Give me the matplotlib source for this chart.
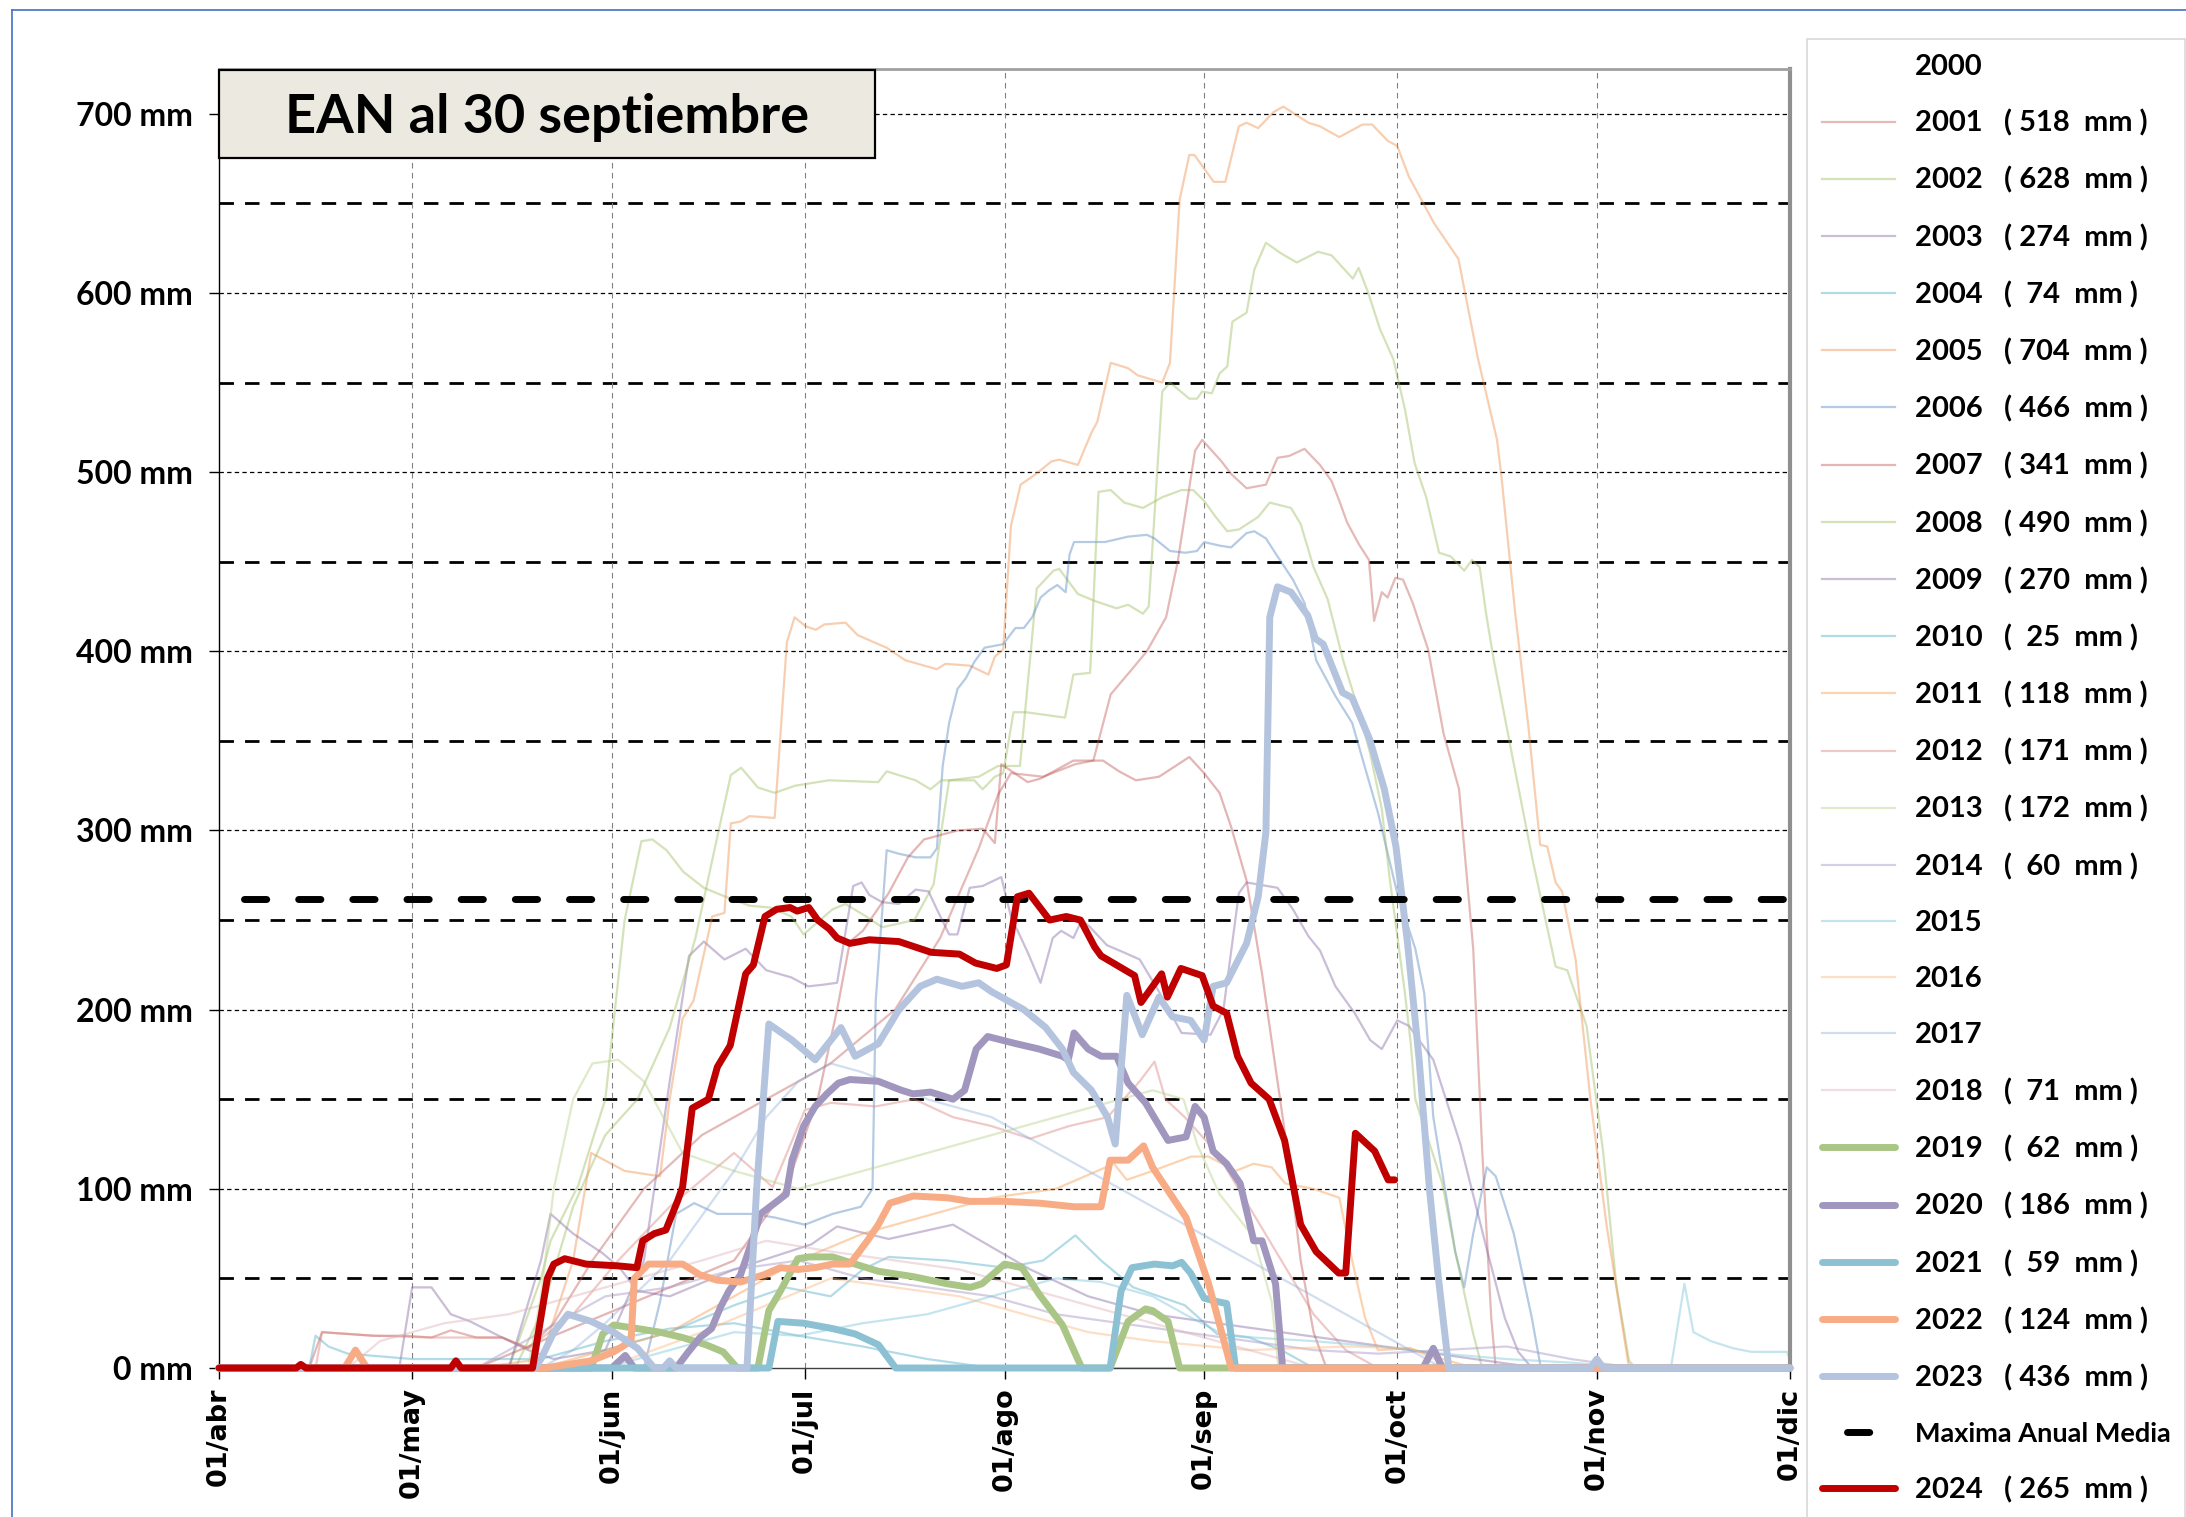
import matplotlib
matplotlib.use("Agg")
import matplotlib.pyplot as plt
from matplotlib.lines import Line2D
from matplotlib.patches import Rectangle

W, H, DPI = 2186, 1517, 100

# ---------------- data (day 0 = 01/abr) ----------------
month_days = [0, 30, 61, 91, 122, 153, 183, 214, 244]
month_labels = ["01/abr", "01/may", "01/jun", "01/jul", "01/ago", "01/sep", "01/oct", "01/nov", "01/dic"]
y_ticks = [0, 100, 200, 300, 400, 500, 600, 700]
y_labels = ["0 mm", "100 mm", "200 mm", "300 mm", "400 mm", "500 mm", "600 mm", "700 mm"]
maxima_media = 262
title_text = "EAN al 30 septiembre"

legend_max = {2001: 518, 2002: 628, 2003: 274, 2004: 74, 2005: 704, 2006: 466, 2007: 341,
              2008: 490, 2009: 270, 2010: 25, 2011: 118, 2012: 171, 2013: 172, 2014: 60,
              2018: 71, 2019: 62, 2020: 186, 2021: 59, 2022: 124, 2023: 436, 2024: 265}

s2001 = [(0,0),(14,0),(16,20),(20,19),(24,18),(29,18),(33,17),(36,21),(40,17),(44,17),(48,11),(52,25),
         (58,60),(66,100),(75,130),(85,150),(95,170),(105,200),(112,240),(118,290),(121,320),(123,332),
         (128,330),(133,337),(135.8,339),(138.5,376),(141.8,390),(144.1,400),(147.1,419),(148.9,450),
         (151.6,512),(152.7,518),(155.7,506),(157.2,499),(159.6,491),(162.6,493),(164.4,508),(166.2,509),
         (168.6,513),(171,504),(172.8,495),(174,484),(175.2,472),(177,460),(178.6,451),(179.4,417),
         (180.6,433),(181.5,430),(182.7,441),(183.9,440),(185.4,427),(187.8,401),(190.2,354),(192.6,323),
         (194.8,234),(196.2,121),(197.6,28),(198.3,0),(244,0)]
s2002 = [(0,0),(45,0),(50,50),(51.5,71),(55.8,102),(60,150),(63,250),(65.6,294),(67.3,295),(69.5,289),
         (72.1,277),(75.3,268),(78,264),(82.4,258),(85.6,257),(88.9,252),(90.8,242),(92.7,248),(95.3,256),
         (97.3,259),(100.5,252),(103,246),(108,250),(111,270),(112.2,300),(113.4,328),(118,330),(121,336),
         (124.4,336),(127,435),(129.6,445),(130.5,446),(133.4,432),(136.1,428),(139.4,424),(141.2,426),
         (143.5,421),(144.4,425),(146.5,545),(147.7,550),(150.7,541),(151.9,541),(152.7,545),(154.2,544),
         (155.4,555),(156.6,559),(157.4,584),(159.6,589),(160.8,613),(162.6,628),(165,622),(167.4,617),
         (170.7,623),(172.8,621),(176.1,608),(177,614),(178.5,600),(180.3,580),(182.4,563),(184.2,535),
         (185.7,505),(187.5,486),(189.5,455),(191.3,453),(193.4,445),(194.6,451),(195.8,447),(196.8,421),
         (198,395),(201,339),(204,284),(207.6,224),(209.4,222),(212.4,191),(215,120),(217,47),(219,4),
         (220,0),(244,0)]
s2003 = [(0,0),(28,0),(30,45),(33,45),(36,30),(39,26),(44,17),(48,10),(52,5),(60,10),(66,60),(70,160),
         (73,230),(75.3,238),(78.5,228),(81.8,234),(85,222),(88.9,218),(91.5,213),(94,214),(96,215),
         (98.5,269),(99.8,271),(101,264),(103,260),(105.6,259),(108.2,267),(110.2,266),(111.5,256),
         (113.4,242),(114.7,242),(116.6,268),(118.6,269),(121.5,274),(123,252),(125.6,232),(127.6,215),
         (129.5,240),(130.8,244),(132.7,240),(134,250),(135.3,246),(137.9,236),(140.5,232),(143,228),
         (146,210),(149.5,187),(154,186),(156,200),(158.4,265),(159.6,271),(164.4,268),(166.8,256),
         (169.2,241),(171,233),(173.4,213),(176.4,198),(178.8,183),(180.6,178),(183,194),(184.8,191),
         (188.6,172),(192.8,125),(197,65),(199.7,28),(201.8,9),(203.9,0),(244,0)]
s2004 = [(0,0),(55,0),(60,10),(70,20),(80,35),(88,45),(95,40),(100,55),(104,62),(113,60),(122,56),
         (128,60),(133,74),(137,60),(142,45),(150,35),(155,19),(160,17),(165,10),(170,0),(244,0)]
s2005 = [(0,0),(40,0),(50,5),(55,60),(57.8,120),(63,110),(68.5,107),(70,150),(72,195),(73.7,205),
         (76.6,252),(78.5,254),(79.5,304),(81,305),(82.4,308),(86.3,307),(88.2,405),(89.4,419),(91.1,414),
         (92.7,412),(94,415),(97.3,416),(99.2,409),(103.7,402),(106.6,395),(111.5,390),(112.8,393),
         (116.6,392),(119.5,387),(120.5,397),(121.8,401),(123,470),(124.5,493),(126.9,499),(129.3,506),
         (130.5,507),(133.4,504),(135.5,522),(136.4,528),(138.5,561),(141.2,558),(142.7,554),(146.5,550),
         (147.7,561),(149.2,652),(150.7,677),(151.5,677),(154.5,662),(156.3,662),(158.4,693),(159.6,695),
         (161.4,692),(163.8,701),(165.3,704),(169.2,695),(171,693),(174,687),(177.6,694),(179.1,694),
         (181.5,685),(183,682),(184.8,665),(186.6,653),(188.7,639),(192.5,619),(195.5,564),(198.5,518),
         (199.2,497),(201.3,422),(203.4,357),(205.2,292),(206.3,291),(207.6,271),(208.6,266),(210.7,228),
         (213,150),(215.5,80),(219,0),(244,0)]
s2006 = [(0,0),(66,0),(68.5,37),(71,86),(73.8,92),(77.4,86),(82.8,86),(86.3,84),(91,80),(95.3,86),
         (99.7,90),(101.5,100),(102,205),(103.7,289),(105.6,287),(108.2,285),(110.5,285),(111.5,290),
         (112.4,336),(113.4,360),(114.7,379),(116,385),(117.3,394),(118.9,402),(121.8,404),(123.7,413),
         (125,413),(126.3,419),(127.6,430),(128.9,434),(130.2,437),(131.5,433),(132.1,454),(132.8,461),
         (137.6,461),(141.2,464),(144.1,465),(145.3,463),(147.7,456),(150.1,455),(151.9,456),(153,461),
         (155.4,459),(157.2,458),(159.6,466),(160.8,467),(162.6,463),(164.4,453),(166.8,440),(168.6,427),
         (170.4,395),(173.4,375),(176,360),(180,310),(183,265),(185.8,234),(187.2,209),(188.6,140),
         (192,65),(193.4,45),(194.8,75),(196.9,112),(198.3,107),(201.1,75),(203.9,28),(205.3,0),(244,0)]
s2007 = [(0,0),(40,0),(50,15),(60,30),(70,45),(80,60),(88,100),(93,150),(96,200),(98,238),(100,244),
         (104,265),(107,285),(109.5,295),(114.7,300),(118.6,301),(120.5,293),(121.5,337),(125.6,327),
         (127.6,329),(132.7,339),(137.3,339),(139.8,333),(142.4,328),(146,330),(150.7,341),(153,332),
         (155.4,321),(157.2,302),(159.6,272),(162,220),(164,170),(166,120),(168,60),(170,20),(172,0),(244,0)]
s2008 = [(0,0),(46,0),(50,30),(55,90),(60,130),(65,150),(70,190),(74,240),(77,290),(79.5,331),
         (81.1,335),(83.7,324),(86.3,321),(89.5,325),(94.7,328),(102.4,327),(103.7,333),(108.2,328),
         (110.5,323),(112.2,328),(117.3,328),(118.6,323),(120.5,330),(121.8,332),(123.4,366),(125.3,366),
         (131.4,363),(132.7,387),(135.3,388),(136.6,489),(138.5,490),(140.6,483),(143.5,480),(146.5,486),
         (149.5,490),(151.3,490),(153,484),(154.8,475),(156.6,467),(158.4,468),(161.4,475),(163.2,483),
         (166.5,480),(168,471),(170,447),(172.2,429),(174.6,395),(177,367),(178.8,343),(180.6,312),
         (181.8,274),(184.2,209),(185.1,181),(185.8,150),(190,103),(192,65),(194.8,19),(196.2,0),(244,0)]
s2009 = [(0,0),(45,0),(50,60),(51.5,86),(55,75),(59.6,64),(62.2,56),(65,43),(70,40),(80,55),(92,69),
         (96,79),(104,72),(114,80),(126,55),(135,40),(145,30),(155,25),(165,20),(175,15),(185,10),
         (195,5),(205,0),(244,0)]
s2010 = [(0,0),(14,0),(15,18),(17,12),(20,8),(30,5),(50,5),(60,15),(70,22),(80,25),(90,18),(100,12),
         (110,5),(120,0),(244,0)]
s2011 = [(0,0),(50,0),(60,10),(70,20),(80,40),(90,60),(100,75),(110,85),(120,95),(130,100),(139,114),
         (141,105),(145,110),(151,118),(153.7,118),(157.9,110),(160.7,114),(163.5,112),(165.6,103),
         (170,100),(174,95),(176,60),(178,28),(180,10),(185,11),(190,5),(195,0),(244,0)]
s2012 = [(0,0),(15,0),(16,20),(24,18),(33,17),(40,17),(44,17),(48,11),(55,30),(62,60),(70,90),(80,120),
         (86,101),(91,144),(95,148),(102,146),(108,150),(114,140),(120,135),(126,128),(132,135),(138,140),
         (143,160),(145.3,171),(147,150),(150,140),(155,120),(160,90),(165,60),(170,30),(175,10),(180,0),(244,0)]
s2013 = [(0,0),(48,0),(50,40),(52,100),(55,150),(58,170),(62,172),(66,160),(72,120),(80,110),(90,100),
         (100,110),(110,120),(120,130),(130,140),(140,150),(145,155),(149.8,150),(151.9,125),(155.4,97),
         (160.7,73),(163.5,37),(164.5,2),(165,0),(244,0)]
s2014 = [(0,0),(40,0),(50,20),(60,40),(70,45),(80,55),(90,60),(100,50),(110,45),(120,40),(130,30),
         (140,25),(150,20),(160,15),(170,10),(180,8),(190,10),(200,12),(210,5),(220,0),(244,0)]
s2015 = [(0,0),(60,0),(70,10),(80,20),(90,18),(100,25),(110,30),(120,40),(130,50),(137,48),(145,40),
         (150,30),(155.8,19),(160.7,17),(170,15),(180,12),(190,8),(200,5),(210,3),(220,0),(225.5,0),
         (227.6,47),(229,20),(231.7,15),(235.2,11),(238,9),(243.5,9),(244,5)]
s2016 = [(0,0),(60,0),(75,20),(85,35),(95,50),(105,45),(115,40),(125,30),(135,20),(145,15),(160,10),
         (175,12),(185,11),(192,0),(244,0)]
s2017 = [(0,0),(50,0),(55,10),(60,25),(70,60),(75,85),(80,110),(85,140),(90,160),(95,170),(100,165),
         (110,150),(120,140),(130,120),(140,100),(150,80),(160,60),(170,40),(180,20),(190,0),(244,0)]
s2018 = [(0,0),(20,0),(25,15),(35,25),(45,30),(55,40),(65,50),(75,60),(85,71),(95,65),(105,60),
         (115,55),(125,45),(135,35),(145,25),(155,15),(165,5),(170,0),(244,0)]

s2019 = [(0,0),(57.8,0),(59.6,19),(61.3,24),(65,22),(68.5,20),(72,17),(75.6,13),(78.3,9),(80.5,0),
         (83.7,0),(85.4,32),(87.2,43),(89.9,61),(91.7,62),(95.3,62),(98.8,58),(102.4,54),(107.8,51),
         (113.1,47),(116.7,45),(118.5,47),(122,58),(124.7,56),(127.4,41),(131,24),(134,0),(138.4,0),
         (141.2,26),(143.9,33),(145,32),(147.4,26),(149.2,0),(244,0)]
s2020 = [(0,0),(61,0),(63.1,7),(64.5,0),(71,0),(72.9,9),(74.7,17),(76.5,22),(77.9,34),(79.2,43),
         (81,52),(82.8,71),(84.1,86),(86.3,92),(88.1,97),(89,116),(90.8,135),(92.6,146),(94.4,153),
         (96.2,159),(98,161),(102.4,160),(106,155),(107.8,153),(110.5,154),(112.3,152),(114,150),
         (115.8,155),(117.6,178),(119.4,185),(123.8,181),(127.4,178),(131,174),(131.9,172),(132.8,187),
         (135,178),(137,174),(139.4,174),(141.2,159),(143.9,148),(147.4,127),(150.2,129),(151.6,146),
         (153,140),(154.4,121),(156.5,114),(158.6,103),(160.7,71),(162,71),(164.1,47),(165.2,0),
         (187,0),(188.6,11),(190,0),(244,0)]
s2021 = [(0,0),(85.4,0),(86.8,26),(90.8,25),(95.3,22),(98.8,19),(102.4,13),(105.1,0),(138.4,0),
         (140.1,43),(141.8,56),(145.3,58),(148.1,57),(149.5,59),(150.9,53),(153,39),(155.1,37),
         (156.5,36),(157.9,0),(244,0)]
s2022 = [(0,0),(19.5,0),(21.2,10),(23,0),(50.6,0),(57.8,4),(61.3,9),(64,15),(64.5,50),(66.7,58),
         (72,58),(74.7,52),(77.4,49),(81,48),(84.6,52),(87.2,56),(89.9,55),(92.6,56),(95.3,58),(98,58),
         (100.7,71),(102.4,80),(104.2,92),(107.8,96),(113.1,95),(116.7,93),(122,93),(127.4,92),
         (132.8,90),(137,90),(138.4,116),(141.2,116),(143.6,124),(145,112),(147.4,99),(150.2,84),
         (152,65),(153.7,47),(155.8,19),(157.2,0),(244,0)]
s2023 = [(0,0),(49,0),(50,5),(52,20),(54.2,30),(57.8,26),(61.3,20),(65,11),(67.6,0),(69,0),(70,4),
         (71,0),(82,0),(83.5,100),(85.4,192),(89,183),(92.6,172),(96.6,190),(98.8,174),(102.4,181),
         (105.6,200),(108.9,213),(111.5,217),(115.4,213),(118,215),(120,210),(125,200),(128.4,190),
         (131,178),(132.7,165),(135.5,155),(138,140),(139.2,125),(141,208),(143.4,186),(146,207),
         (148.1,196),(150.9,194),(153,183),(154.4,213),(156.5,215),(159.6,237),(161.4,263),(162.6,299),
         (163.2,419),(164.4,436),(166.5,433),(169.1,420),(170.3,407),(171.5,404),(174.5,377),(176,374),
         (178.7,351),(181,323),(182.8,291),(184.6,237),(186.4,172),(188,100),(189.4,50),(191,0),
         (213,0),(214,5),(215,0),(244,0)]
s2024 = [(0,0),(12,0),(12.7,2),(13.5,0),(36,0),(36.8,4),(37.6,0),(48.7,0),(51,50),(52,58),(53.7,61),
         (57,58),(62,57),(64.9,56),(65.8,71),(67.6,75),(69.4,77),(71.2,93),(72,101),(73.5,145),(76,150),
         (77.4,168),(79.4,180),(81.8,220),(83,225),(84.8,252),(86.6,256),(88.7,257),(89.8,255),(91.6,257),
         (93,250),(94.8,245),(96,240),(98,237),(101,239),(105.6,238),(110.6,232),(115,231),(117.5,226),
         (120.8,223),(122.3,225),(124,263),(125.8,265),(129,250),(131.6,252),(133.8,250),(136,235),
         (137,230),(142.2,219),(143.2,204),(146.4,220),(147.3,207),(149.4,223),(152.7,219),(154.4,202),
         (156.5,198),(158.2,174),(160.3,159),(163.1,150),(165.5,127),(168,80),(170.4,65),(173.9,53),
         (175,53),(176.5,131),(179.5,121),(181.6,105),(182.6,105)]

series = {2001: s2001, 2002: s2002, 2003: s2003, 2004: s2004, 2005: s2005, 2006: s2006, 2007: s2007,
          2008: s2008, 2009: s2009, 2010: s2010, 2011: s2011, 2012: s2012, 2013: s2013, 2014: s2014,
          2015: s2015, 2016: s2016, 2017: s2017, 2018: s2018, 2019: s2019, 2020: s2020, 2021: s2021,
          2022: s2022, 2023: s2023, 2024: s2024}

# ---------------- styles ----------------
thin_colors = {2001: (0.75, 0.35, 0.33, 0.42), 2002: (0.60, 0.73, 0.35, 0.42), 2003: (0.50, 0.39, 0.64, 0.42),
               2004: (0.29, 0.67, 0.78, 0.42), 2005: (0.93, 0.55, 0.27, 0.42), 2006: (0.31, 0.51, 0.74, 0.42),
               2007: (0.75, 0.31, 0.30, 0.42), 2008: (0.60, 0.73, 0.35, 0.42), 2009: (0.50, 0.39, 0.64, 0.42),
               2010: (0.29, 0.67, 0.78, 0.42), 2011: (0.97, 0.59, 0.27, 0.42), 2012: (0.85, 0.50, 0.48, 0.42),
               2013: (0.72, 0.82, 0.55, 0.45), 2014: (0.65, 0.58, 0.76, 0.45), 2015: (0.50, 0.78, 0.86, 0.45),
               2016: (0.98, 0.72, 0.50, 0.45), 2017: (0.55, 0.68, 0.86, 0.40), 2018: (0.88, 0.70, 0.72, 0.45)}
thick_colors = {2019: "#AAC687", 2020: "#A096BE", 2021: "#8CC1D4", 2022: "#F8AC85", 2023: "#B4C4DE", 2024: "#C00000"}

plt.rcParams["font.family"] = ["Lato", "DejaVu Sans"]
fig = plt.figure(figsize=(W / DPI, H / DPI), dpi=DPI)
ax = fig.add_axes([219 / W, 1 - 1368 / H, (1790 - 219) / W, (1368 - 69) / H])
ax.set_xlim(0, 244)
ax.set_ylim(0, 725)

# grid
for v in range(50, 701, 50):
    if v % 100 == 0:
        ax.axhline(v, color="black", lw=0.9, dashes=(3.5, 2.6), zorder=1)
    else:
        ax.axhline(v, color="black", lw=2.0, dashes=(5.2, 4.0), zorder=1)
for d in month_days[1:]:
    ax.axvline(d, color="#808080", lw=0.8, dashes=(5, 4), zorder=1)

handles = {2000: Line2D([], [], color="none")}
for yr in range(2001, 2019):
    pts = series[yr]
    ln, = ax.plot([p[0] for p in pts], [p[1] for p in pts], color=thin_colors[yr], lw=1.6, zorder=2,
                  solid_joinstyle="round", clip_on=False)
    handles[yr] = ln
for z, yr in enumerate(range(2019, 2024)):
    pts = series[yr]
    ln, = ax.plot([p[0] for p in pts], [p[1] for p in pts], color=thick_colors[yr], lw=5, zorder=3 + z,
                  solid_joinstyle="round", solid_capstyle="round", clip_on=False)
    handles[yr] = ln
mx, = ax.plot([0, 244], [maxima_media, maxima_media], color="black", lw=5,
              linestyle=(4.2, (3.2, 4.6)), dash_capstyle="round", zorder=9)
pts = series[2024]
ln24, = ax.plot([p[0] for p in pts], [p[1] for p in pts], color=thick_colors[2024], lw=5, zorder=10,
                solid_joinstyle="round", solid_capstyle="round", clip_on=False)
handles[2024] = ln24

# axes styling
ax.set_xticks(month_days)
ax.set_xticklabels(month_labels, rotation=90, fontfamily="DejaVu Sans", fontweight="bold", fontsize=19.5)
ax.set_yticks(y_ticks)
ax.set_yticklabels(y_labels, fontsize=23, fontweight="bold")
ax.tick_params(axis="x", direction="out", length=8, width=1, pad=6)
ax.tick_params(axis="y", direction="out", length=7, width=1, pad=12)
ax.spines["left"].set_color("black")
ax.spines["left"].set_linewidth(1.0)
ax.spines["bottom"].set_color("#404040")
ax.spines["bottom"].set_linewidth(1.0)
ax.spines["top"].set_color("#A0A0A0")
ax.spines["top"].set_linewidth(2.0)
ax.spines["right"].set_color("#909090")
ax.spines["right"].set_linewidth(3.0)

# title box
fig.add_artist(Rectangle((219 / W, 1 - 158 / H), (875 - 219) / W, (158 - 70) / H, transform=fig.transFigure,
                         facecolor="#ECEAE0", edgecolor="black", lw=1.6, zorder=20))
fig.text(547 / W, 1 - 117 / H, title_text, ha="center", va="center", fontsize=39, fontweight="bold", zorder=21)

# outer border
fig.add_artist(Line2D([12 / W, 12 / W], [0, 1 - 10 / H], transform=fig.transFigure, color="#4472C4", lw=1.2))
fig.add_artist(Line2D([12 / W, 1], [1 - 10 / H, 1 - 10 / H], transform=fig.transFigure, color="#4472C4", lw=1.2))

# legend
def lab(yr):
    if yr in legend_max:
        return f"{yr}   ( {legend_max[yr]:>3}  mm )"
    return f"{yr}"

order = list(range(2000, 2024))
leg_handles = [handles[y] for y in order] + [mx, handles[2024]]
leg_labels = [lab(y) for y in order] + ["Maxima Anual Media", lab(2024)]
leg = fig.legend(leg_handles, leg_labels, loc="upper left", bbox_to_anchor=(1807 / W, 1 - 39 / H),
                 bbox_transform=fig.transFigure, frameon=True, fancybox=False,
                 prop={"weight": "bold", "size": 21}, labelspacing=1.03, handlelength=2.5,
                 handletextpad=0.7, borderpad=0.5, borderaxespad=0)
leg.get_frame().set_edgecolor("#D0D0D0")
leg.get_frame().set_linewidth(1.2)
leg.get_texts()[-2].set_fontsize(19.5)

fig.savefig("out.png", dpi=DPI)
